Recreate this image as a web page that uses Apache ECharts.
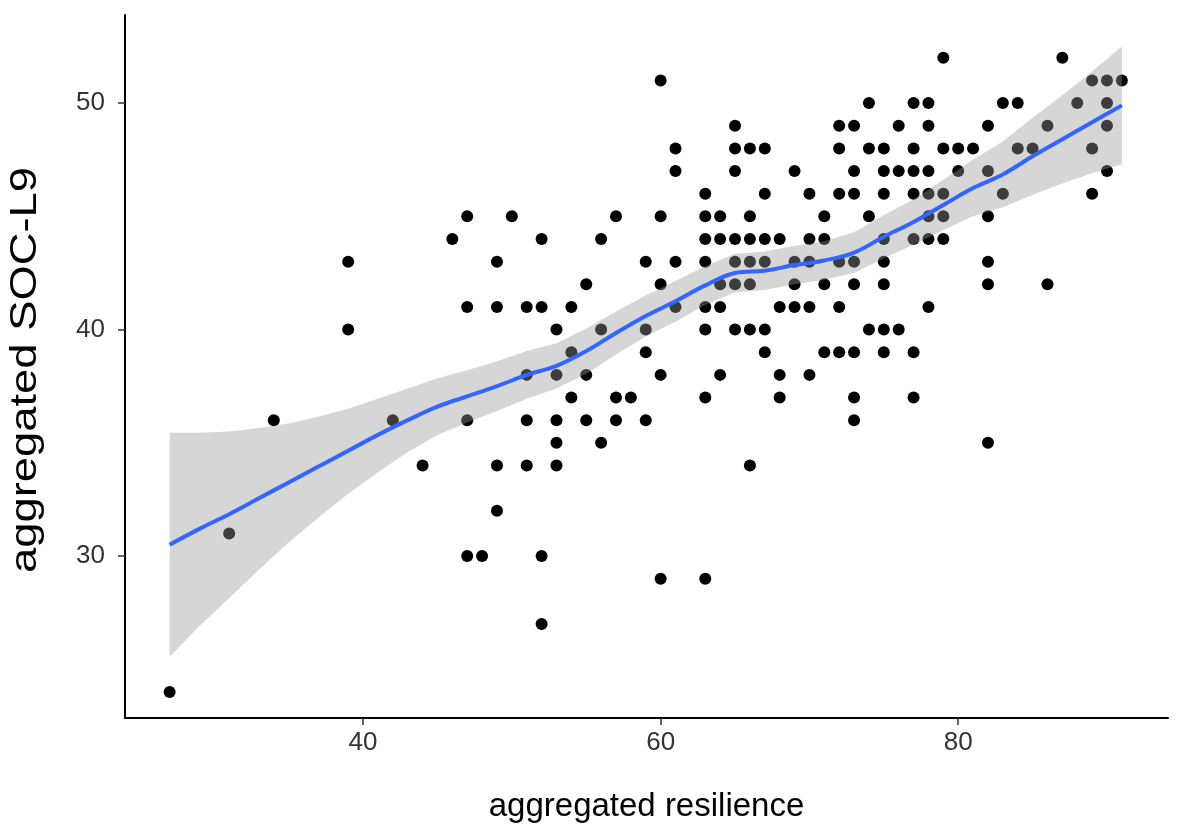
<!DOCTYPE html>
<html><head><meta charset="utf-8">
<script src="https://cdn.jsdelivr.net/npm/echarts@6/dist/echarts.min.js"></script>
<style>html,body{margin:0;padding:0;background:#fff}#c{width:1181px;height:833px}</style>
</head><body><div id="c"></div>
<script>
// Observed points, grouped by resilience value (column)
const resilienceCols = [27,31,34,39,42,44,46,47,48,49,50,51,52,53,54,55,56,57,58,59,60,61,63,64,65,66,67,68,69,70,71,72,73,74,75,76,77,78,79,80,81,82,83,84,85,86,87,88,89,90,91];
const socByCol = [
  [24],[31],[36],[43,40],[36],[34],[44],[45,41,36,30],[30],[43,41,34,32],[45],
  [41,38,36,34],[44,41,30,27],[40,38,36,35,34],[41,39,37],[42,38,36],[44,40,35],
  [45,37,36],[37],[43,40,39,36],[51,45,42,38,29],[48,47,43,41],
  [46,45,44,43,41,40,37,29],[45,44,42,41,38],[49,48,47,44,43,42,40],
  [48,45,44,43,42,40,34],[48,46,44,43,40,39],[44,41,38,37],[47,43,42,41],
  [46,44,43,41,38],[45,44,42,39],[49,48,46,43,41,39],[49,47,46,43,42,39,37,36],
  [50,48,45,40],[48,47,46,44,43,42,40,39],[49,47,40],[50,48,47,46,44,39,37],
  [50,49,47,46,45,44,41],[52,48,46,45,44],[48,47],[48],[49,47,45,43,42,35],
  [50,46],[50,48],[48],[49,42],[52],[50],[51,48,46],[51,50,49,47],[51]
];
// Smoothed fit and its confidence band
const fitX    = [27,29,31,33,35,37,39,41,43,45,47,49,51,53,55,57,59,61,63,65,67,69,71,73,75,77,79,81,83,85,87,89,91];
const fitY    = [30.5,31.2,31.85,32.55,33.25,33.95,34.65,35.35,36.0,36.6,37.05,37.5,38.0,38.4,39.05,39.85,40.6,41.25,41.95,42.5,42.6,42.85,43.05,43.4,44.1,44.75,45.5,46.25,46.85,47.65,48.4,49.15,49.9];
const ciLower = [25.55,26.9,28.15,29.4,30.6,31.7,32.75,33.7,34.6,35.35,35.9,36.4,36.95,37.4,38.05,38.9,39.7,40.35,41.1,41.65,41.75,42.0,42.2,42.5,43.15,43.75,44.4,45.0,45.4,45.95,46.45,46.9,47.3];
const ciUpper = [35.45,35.45,35.5,35.65,35.85,36.15,36.5,36.95,37.4,37.85,38.2,38.6,39.05,39.4,40.05,40.8,41.5,42.15,42.8,43.35,43.45,43.7,43.9,44.3,45.05,45.75,46.6,47.5,48.3,49.35,50.35,51.4,52.5];
const xTicks = [40,60,80];
const yTicks = [30,40,50];
const xTitle = 'aggregated resilience';
const yTitle = 'aggregated SOC-L9';

const points = [];
resilienceCols.forEach((x, i) => socByCol[i].forEach(y => points.push([x, y])));
const fitLine = fitX.map((x, i) => [x, fitY[i]]);

const FONT = '"Liberation Sans", Arial, sans-serif';
const chart = echarts.init(document.getElementById('c'), null, {renderer: 'canvas'});
chart.setOption({
  animation: false,
  backgroundColor: '#fff',
  grid: {left: 125, right: 13, top: 15, bottom: 115},
  xAxis: {
    type: 'value', min: 24, max: 94.1,
    name: xTitle, nameLocation: 'middle', nameGap: 72,
    nameTextStyle: {fontFamily: FONT, fontSize: 33, color: '#000'},
    axisLine: {onZero: false, lineStyle: {color: '#000', width: 2}},
    axisTick: {show: true, length: 7, customValues: xTicks, lineStyle: {color: '#333', width: 1.5}},
    axisLabel: {customValues: xTicks, fontFamily: FONT, fontSize: 26, color: '#333', margin: 12},
    splitLine: {show: false}
  },
  yAxis: {
    type: 'value', min: 22.85, max: 53.89,
    axisLine: {show: true, onZero: false, lineStyle: {color: '#000', width: 2}},
    axisTick: {show: true, length: 7, customValues: yTicks, lineStyle: {color: '#333', width: 1.5}},
    axisLabel: {customValues: yTicks, fontFamily: FONT, fontSize: 26, color: '#333', margin: 20},
    splitLine: {show: false}
  },
  graphic: [{
    type: 'text', x: 26, y: 370, rotation: Math.PI / 2, scaleX: 1.26, silent: true,
    style: {text: yTitle, fontFamily: FONT, fontSize: 36, fill: '#000', align: 'center', verticalAlign: 'middle'}
  }],
  series: [
    {type: 'scatter', data: points, symbolSize: 12, itemStyle: {color: '#000', opacity: 1}, z: 1, silent: true},
    {
      type: 'custom', z: 2, silent: true,
      data: [[fitX[0], fitY[0]]],
      renderItem: function (params, api) {
        const pts = [];
        for (let i = 0; i < fitX.length; i++) pts.push(api.coord([fitX[i], ciUpper[i]]));
        for (let i = fitX.length - 1; i >= 0; i--) pts.push(api.coord([fitX[i], ciLower[i]]));
        return {type: 'polygon', shape: {points: pts, smooth: 0}, style: {fill: 'rgba(153,153,153,0.4)'}};
      }
    },
    {type: 'line', data: fitLine, smooth: 0.4, showSymbol: false, z: 3, silent: true,
     lineStyle: {color: '#3366FF', width: 4}}
  ]
});
</script></body></html>
